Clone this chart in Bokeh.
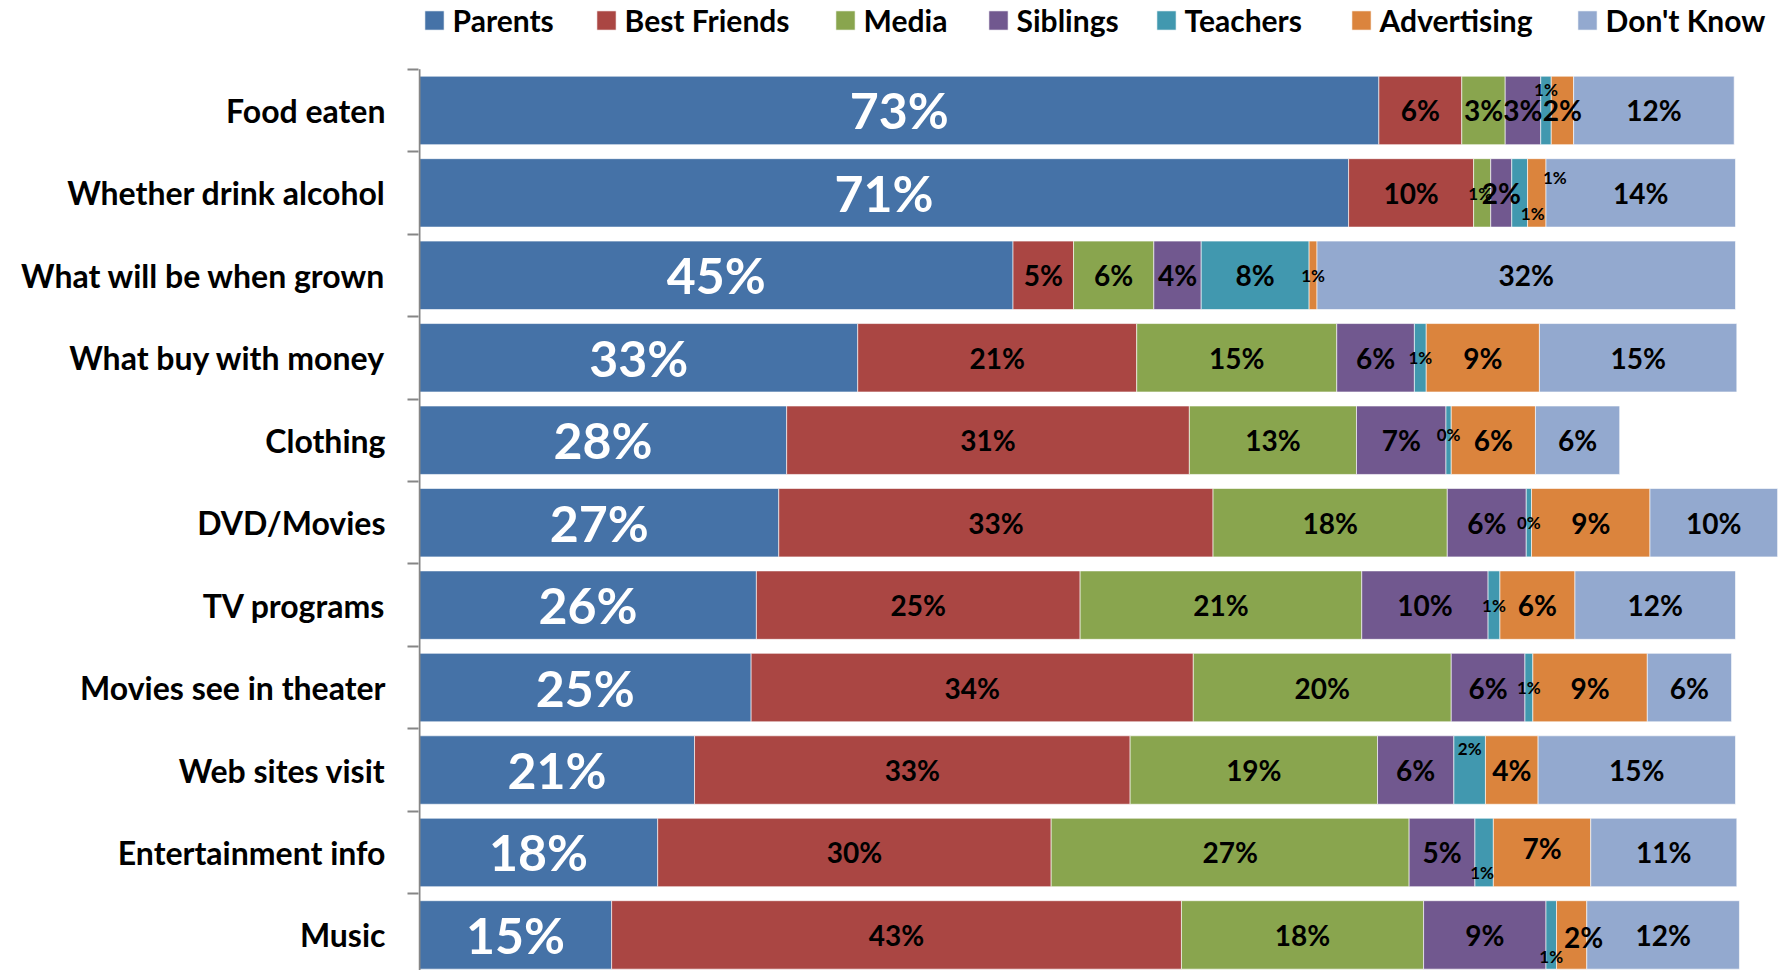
from bokeh.plotting import figure
from bokeh.models import ColumnDataSource, FixedTicker, Range1d, Legend, LegendItem
from bokeh.core.properties import value
from bokeh.embed import file_html
from bokeh.resources import INLINE

categories = ["Food eaten", "Whether drink alcohol", "What will be when grown",
              "What buy with money", "Clothing", "DVD/Movies", "TV programs",
              "Movies see in theater", "Web sites visit", "Entertainment info", "Music"]
series = ["Parents", "Best Friends", "Media", "Siblings", "Teachers", "Advertising", "Don't Know"]

parents      = [72.9, 70.6, 45.1, 33.3, 27.9, 27.3, 25.6, 25.2, 20.9, 18.1, 14.6]
best_friends = [6.3, 9.5, 4.6, 21.2, 30.6, 33.0, 24.6, 33.6, 33.1, 29.9, 43.3]
media        = [3.3, 1.3, 6.1, 15.2, 12.7, 17.8, 21.4, 19.6, 18.8, 27.2, 18.4]
siblings     = [2.7, 1.6, 3.6, 5.9, 6.8, 6.0, 9.6, 5.6, 5.8, 5.0, 9.3]
teachers     = [0.8, 1.2, 8.2, 0.9, 0.4, 0.4, 0.9, 0.6, 2.4, 1.4, 0.8]
advertising  = [1.7, 1.4, 0.6, 8.6, 6.4, 9.0, 5.7, 8.7, 4.0, 7.4, 2.3]
dont_know    = [12.2, 14.4, 31.8, 15.0, 6.4, 9.7, 12.2, 6.4, 15.0, 11.1, 11.6]

values = [parents, best_friends, media, siblings, teachers, advertising, dont_know]
colors = ["#4572A7", "#AA4643", "#89A54E", "#71588F", "#4198AF", "#DB843D", "#93A9CF"]

FONT = value("Lato")
PX_PER_PCT = 13.16
ROW_PX = 82.45

# manual label nudges (screen pixels), as in the original chart
nudges = {
    ("Food eaten", "Teachers"): (0, -21),
    ("Whether drink alcohol", "Teachers"): (13, 21),
    ("Whether drink alcohol", "Advertising"): (18, -15),
    ("Whether drink alcohol", "Media"): (-2, 1),
    ("Clothing", "Teachers"): (0, -6),
    ("Web sites visit", "Teachers"): (0, -22),
    ("Entertainment info", "Teachers"): (-2, 20),
    ("Entertainment info", "Advertising"): (0, -4),
    ("Music", "Teachers"): (0, 22),
    ("Music", "Advertising"): (12, 2),
}
legend_x = [424, 596, 835, 988, 1156, 1351, 1577]

n = len(categories)
ypos = [n - 1 - i for i in range(n)]
data = {"y": ypos}
for name, vals in zip(series, values):
    data[name] = vals
src = ColumnDataSource(data)

W, H = 1786, 970
FRAME_LEFT = 418          # frame edge; value 0 sits 1px to the right (axis line)
AXIS_X = 419
TOP_BOUNDARY = 68.7       # screen y of the upper edge of the first category
x0 = -(AXIS_X - FRAME_LEFT) / PX_PER_PCT
x1 = x0 + (W - FRAME_LEFT) / PX_PER_PCT
y_top = (n - 0.5) + TOP_BOUNDARY / ROW_PX
y_bot = (n - 0.5) - (H - TOP_BOUNDARY) / ROW_PX

p = figure(width=W, height=H, output_backend="svg", toolbar_location=None,
           x_range=Range1d(x0, x1), y_range=Range1d(y_bot, y_top),
           x_axis_location=None,
           min_border_left=FRAME_LEFT, min_border_right=0,
           min_border_top=0, min_border_bottom=0)
p.outline_line_color = None
p.xgrid.visible = False
p.ygrid.visible = False
p.background_fill_color = "white"

renderers = p.hbar_stack(series, y="y", height=0.83, color=colors, source=src,
                         line_color="white", line_width=1, line_alpha=0.6)

# vertical category axis line (only over the category area)
p.segment(x0=[0], y0=[y_bot], x1=[0], y1=[n - 0.5], line_color="#868686", line_width=2)

# labels
lx, ly, lt, lc, ls, lxo, lyo = [], [], [], [], [], [], []
for i, cat in enumerate(categories):
    left = 0.0
    for s, vals in zip(series, values):
        v = vals[i]
        lx.append(left + v / 2)
        ly.append(ypos[i])
        lt.append(f"{v:.0f}%")
        if s == "Parents":
            lc.append("white"); ls.append("50px")
        else:
            lc.append("black")
            small = v < 1.5 or (s == "Teachers" and v < 3)
            ls.append("17px" if small else "28px")
        dx, dy = nudges.get((cat, s), (0, 0))
        lxo.append(dx); lyo.append(dy)
        left += v
lsrc = ColumnDataSource(dict(x=lx, y=ly, t=lt, c=lc, s=ls, xo=lxo, yo=lyo))
p.text(x="x", y="y", text="t", text_color="c", text_font_size="s",
       x_offset="xo", y_offset="yo", text_align="center", text_baseline="middle",
       text_font=FONT, text_font_style="bold", source=lsrc)

# y axis (labels + boundary ticks)
ax = p.yaxis[0]
ax.ticker = FixedTicker(ticks=ypos, minor_ticks=[k - 0.5 for k in range(n + 1)])
ax.major_label_overrides = {y: c for y, c in zip(ypos, categories)}
ax.major_tick_line_color = None
ax.major_tick_out = 0
ax.major_tick_in = 0
ax.minor_tick_out = 11
ax.minor_tick_in = 0
ax.minor_tick_line_color = "#868686"
ax.minor_tick_line_width = 2
ax.axis_line_color = None
ax.major_label_standoff = 22
ax.major_label_text_font = "Lato"
ax.major_label_text_font_style = "bold"
ax.major_label_text_font_size = "32px"
ax.major_label_text_color = "black"

# legend: one entry per series, placed like the original
GW = 24  # legend glyph box; the drawn swatch is inset 10% on each side
for name, r, xx in zip(series, renderers, legend_x):
    leg = Legend(items=[LegendItem(label=name, renderers=[r])],
                 location=(xx - 0.1 * GW - FRAME_LEFT, H - 5 - 33),
                 orientation="horizontal", padding=0, margin=0, spacing=0,
                 glyph_width=GW, glyph_height=GW, label_standoff=7,
                 label_text_font="Lato", label_text_font_style="bold",
                 label_text_font_size="30px", label_text_color="black",
                 background_fill_alpha=0, border_line_alpha=0)
    p.add_layout(leg)

open("out.html", "w").write(file_html(p, INLINE))
